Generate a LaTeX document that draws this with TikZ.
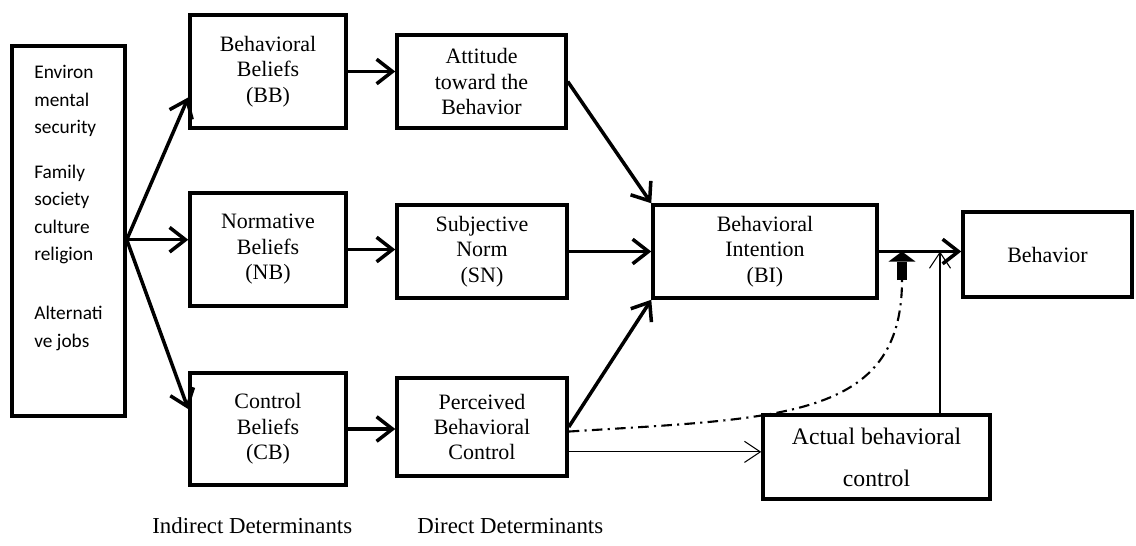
\documentclass[tikz,border=0pt]{standalone}
\usepackage{fontspec}
\setmainfont{Liberation Serif}
\newfontfamily\calib{Carlito}
\usetikzlibrary{arrows.meta}

\begin{document}
\begin{tikzpicture}[x=0.02cm, y=-0.02cm,
  tpb/.style={draw, line width=2pt, align=center, inner sep=0pt,
    font=\fontsize{12.5}{14.5}\selectfont},
  thickarr/.style={line width=2pt, -{Straight Barb[length=9pt,width=14pt]}},
  thinarr/.style={line width=0.6pt, -{Straight Barb[length=9pt,width=12pt]}},
  detlabel/.style={font=\fontsize{13}{15}\selectfont, anchor=base west, inner sep=0pt}]
\useasboundingbox (0,0) rectangle (1136,545);

% External factors
\node [tpb, minimum width=2.26cm, minimum height=7.40cm] (env) at (68.5,231) {};
\node [anchor=north west, inner sep=0pt, align=left,
  font=\calib\fontsize{11}{15.6}\selectfont] (envtxt) at (34,65)
  {Environ\\mental\\security\\[10pt]Family\\society\\culture\\religion\\[18pt]Alternati\\ve jobs};

% Indirect determinants
\node [tpb, minimum width=3.12cm, minimum height=2.26cm] (bb) at (268,71.5) {Behavioral\\Beliefs\\(BB)};
\node [tpb, minimum width=3.12cm, minimum height=2.26cm] (nb) at (268,249.5) {Normative\\Beliefs\\(NB)};
\node [tpb, minimum width=3.12cm, minimum height=2.24cm] (cb) at (268,429) {Control\\Beliefs\\(CB)};

% Direct determinants
\node [tpb, minimum width=3.38cm, minimum height=1.86cm] (att) at (481.5,81.5) {Attitude\\toward the\\Behavior};
\node [tpb, minimum width=3.40cm, minimum height=1.86cm] (sn) at (482,251.5) {Subjective\\Norm\\(SN)};
\node [tpb, minimum width=3.40cm, minimum height=1.96cm] (pbc) at (482,427) {Perceived\\Behavioral\\Control};

% Intention and behavior
\node [tpb, minimum width=4.48cm, minimum height=1.86cm] (bi) at (765,251.5) {Behavioral\\Intention\\(BI)};
\node [tpb, minimum width=3.38cm, minimum height=1.70cm] (beh) at (1047.5,254.5) {Behavior};
\node [tpb, minimum width=4.54cm, minimum height=1.68cm,
  font=\fontsize{13.5}{23.8}\selectfont] (abc) at (876.5,457) {Actual behavioral\\control};

% Fork out of the external factors
\coordinate (fork) at (env.east |- nb.173);
\draw [thickarr] (fork) -- (bb.198);
\draw [thickarr] (fork) -- (nb.173);
\draw [thickarr] (fork) -- (cb.166);

% Beliefs to determinants
\draw [thickarr] (bb.east) -- (bb.east -| att.west);
\draw [thickarr] (nb.east) -- (nb.east -| sn.west);
\draw [thickarr] (cb.east) -- (cb.east -| pbc.west);

% Determinants to intention
\draw [thickarr] (att.east) -- (bi.north west);
\draw [thickarr] (sn.east) -- (bi.west);
\draw [thickarr] (pbc.east) -- (bi.south west);
\draw [thickarr] (bi.east) -- (bi.east -| beh.west);

% Control paths
\draw [thinarr] (pbc.344) -- (pbc.344 -| abc.west);
\coordinate (vx) at (940,0);
\draw [thinarr] (vx |- abc.north) -- (vx |- bi.east);
\coordinate (dd) at (902,280);
\draw [line width=1.2pt, dash pattern=on 6pt off 3pt on 1.2pt off 3pt]
  (pbc.357) .. controls (780,418) and (902,420) .. (dd);
\draw [line width=6.2pt, -{Triangle[length=5.7pt,width=15.3pt,line width=0pt]}]
  (dd) -- (dd |- bi.east);

% Captions
\node [detlabel] (ind) at (152,533) {Indirect Determinants};
\node [detlabel] (dir) at (417,533) {Direct Determinants};
\end{tikzpicture}
\end{document}
